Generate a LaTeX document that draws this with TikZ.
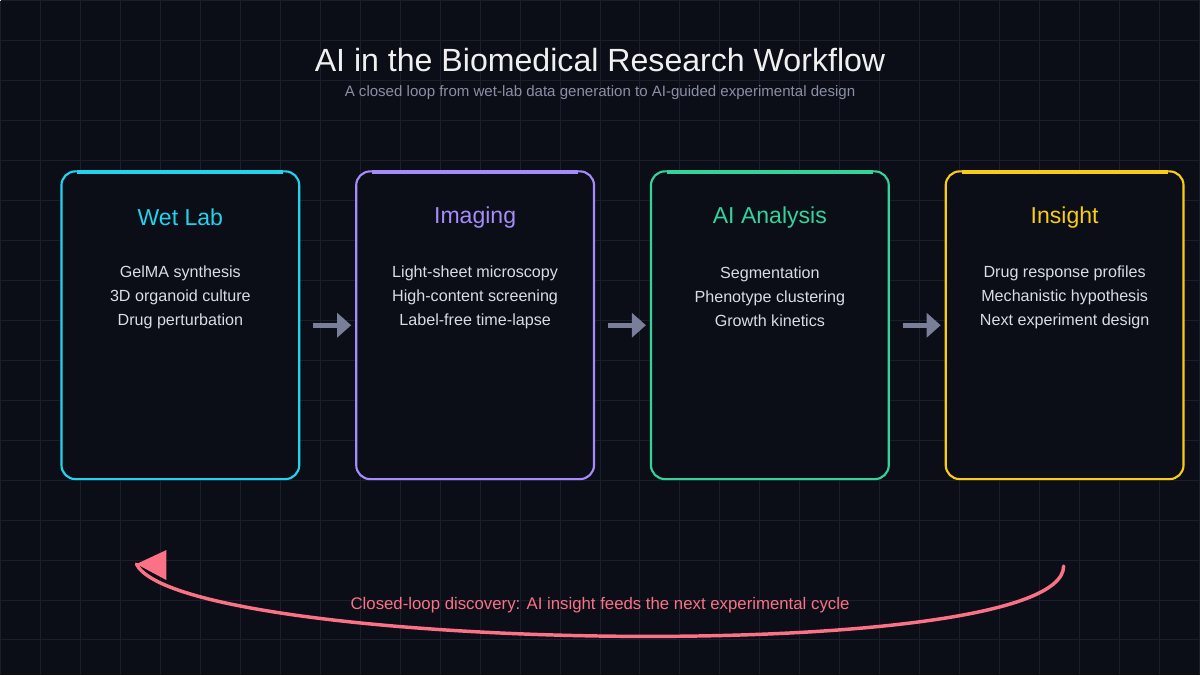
\documentclass[tikz,border=0pt]{standalone}
\usepackage{fontspec}
\setmainfont{Liberation Sans}
\usepackage{xcolor}
\usetikzlibrary{arrows.meta,calc,positioning}

\definecolor{bgcol}{HTML}{0B0E17}
\definecolor{gridcol}{HTML}{1B1F2C}
\definecolor{wetcol}{HTML}{22D3EE}
\definecolor{imgcol}{HTML}{A78BFA}
\definecolor{aicol}{HTML}{34D399}
\definecolor{inscol}{HTML}{FACC15}
\definecolor{loopcol}{HTML}{FB7185}
\definecolor{flowcol}{HTML}{7A7F99}
\definecolor{bodycol}{HTML}{D9DCE4}
\definecolor{subcol}{HTML}{8A8FA6}

\tikzset{
  stage/.style={draw=#1, line width=1.6pt, fill=bgcol, rounded corners=10.5pt,
    minimum width=178.5pt, minimum height=231pt, inner sep=0pt},
  stagebar/.style={draw=#1, line width=3.2pt},
  stagetitle/.style={text=#1, font=\fontsize{17.3}{21}\selectfont},
  stagebody/.style={text=bodycol, align=center, font=\fontsize{12.1}{18}\selectfont},
  flow/.style={draw=flowcol, line width=3.6pt,
    -{Triangle[length=10.5pt,width=18pt]}, shorten <=9.75pt, shorten >=3pt},
}

\begin{document}
\begin{tikzpicture}[x=0.75pt,y=-0.75pt]
\fill[bgcol] (0,0) rectangle (1200,675);
\foreach \x in {0,40,...,1200}
\draw[gridcol, line width=0.75pt] (\x,0) -- (\x,675);
\foreach \y in {0,40,...,675}
\draw[gridcol, line width=0.75pt] (0,\y) -- (1200,\y);

% title
\node[text=white!94!black, font=\fontsize{24.1}{29}\selectfont] (title) at (600,60)
{AI in the Biomedical Research Workflow};
\node[text=subcol, font=\fontsize{11.3}{14}\selectfont] (subtitle) at (600,92)
{A closed loop from wet-lab data generation to AI-guided experimental design};

% stages
\node[stage=wetcol] (wetlab) at (180,325) {};
\node[stage=imgcol] (imaging) at (475,325) {};
\node[stage=aicol] (aianalysis) at (770,325) {};
\node[stage=inscol] (insight) at (1065,325) {};

\draw[stagebar=wetcol] ($(wetlab.north west)+(17,1.5)$) -- ($(wetlab.north east)+(-17,1.5)$);
\draw[stagebar=imgcol] ($(imaging.north west)+(17,1.5)$) -- ($(imaging.north east)+(-17,1.5)$);
\draw[stagebar=aicol] ($(aianalysis.north west)+(17,1.5)$) -- ($(aianalysis.north east)+(-17,1.5)$);
\draw[stagebar=inscol] ($(insight.north west)+(17,1.5)$) -- ($(insight.north east)+(-17,1.5)$);

\node[stagetitle=wetcol] (wetlabtitle) at ($(wetlab.north)+(0,47)$) {Wet Lab};
\node[stagetitle=imgcol] (imagingtitle) at ($(imaging.north)+(0,47)$) {Imaging};
\node[stagetitle=aicol] (aianalysistitle) at ($(aianalysis.north)+(0,47)$) {AI Analysis};
\node[stagetitle=inscol] (insighttitle) at ($(insight.north)+(0,47)$) {Insight};

\node[stagebody] (wetlabbody) at ($(wetlab.north)+(0,127)$)
{GelMA synthesis\\3D organoid culture\\Drug perturbation};
\node[stagebody] (imagingbody) at ($(imaging.north)+(0,127)$)
{Light-sheet microscopy\\High-content screening\\Label-free time-lapse};
\node[stagebody] (aianalysisbody) at ($(aianalysis.north)+(0,127)$)
{Segmentation\\Phenotype clustering\\Growth kinetics};
\node[stagebody] (insightbody) at ($(insight.north)+(0,127)$)
{Drug response profiles\\Mechanistic hypothesis\\Next experiment design};

% arrows between stages
\draw[flow] (wetlab) -- (imaging);
\draw[flow] (imaging) -- (aianalysis);
\draw[flow] (aianalysis) -- (insight);

% feedback loop
\coordinate (loopstart) at (1064,566);
\coordinate (looptip) at (136,564);
\draw[loopcol, line width=2.6pt, line cap=round]
(loopstart) .. controls (1064,668) and (180,652) .. (looptip);
\fill[loopcol] (looptip) -- ++(30,-14) -- ++(0,30) -- cycle;
\node[text=loopcol, font=\fontsize{12.6}{15}\selectfont] (looplabel) at (600,605)
{Closed-loop discovery: AI insight feeds the next experimental cycle};
\end{tikzpicture}
\end{document}
